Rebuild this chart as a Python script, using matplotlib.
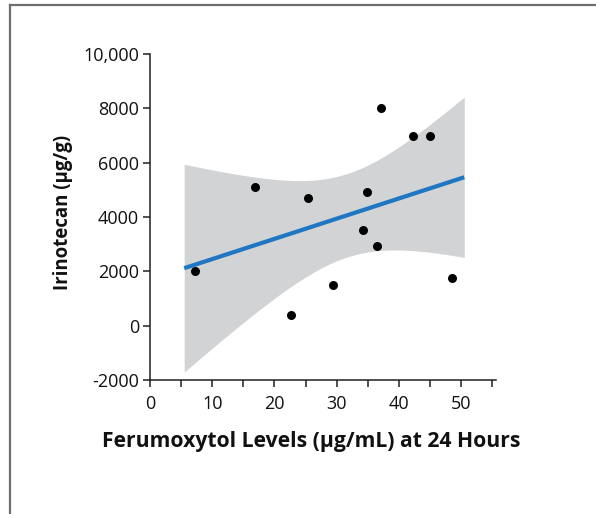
import numpy as np
import matplotlib.pyplot as plt
from matplotlib.lines import Line2D
from matplotlib.ticker import FuncFormatter, MultipleLocator

# Ferumoxytol at 24 h (ug/mL) vs irinotecan (ug/g)
ferumoxytol = [7.3, 16.9, 22.6, 25.4, 29.4, 34.2, 34.9, 36.5, 37.1, 42.3, 45.0, 48.5]
irinotecan = [2030, 5100, 380, 4690, 1480, 3520, 4920, 2950, 8000, 6970, 6970, 1750]

fit_range = (5.5, 50.5)
t_crit = 2.228  # t(0.975, df=10)

plt.rcParams['font.family'] = ['Open Sans', 'DejaVu Sans']

x = np.array(ferumoxytol)
y = np.array(irinotecan, dtype=float)
n = len(x)
slope, intercept = np.polyfit(x, y, 1)
resid = y - (slope * x + intercept)
s = np.sqrt(np.sum(resid ** 2) / (n - 2))
sxx = np.sum((x - x.mean()) ** 2)

xf = np.linspace(fit_range[0], fit_range[1], 200)
yf = slope * xf + intercept
half = t_crit * s * np.sqrt(1 / n + (xf - x.mean()) ** 2 / sxx)

fig = plt.figure(figsize=(5.96, 5.14), dpi=100)
ax = fig.add_axes([150 / 596, 1 - 380 / 514, 346 / 596, 326 / 514])

ax.fill_between(xf, yf - half, yf + half, color='#d1d3d4', lw=0, zorder=1)
ax.plot(xf, yf, color='#1f77c4', lw=3, solid_capstyle='butt', zorder=2)
ax.scatter(x, y, s=42, color='black', zorder=3, linewidths=0)

ax.set_xlim(0, 55.6)
ax.set_ylim(-2000, 10000)
ax.xaxis.set_major_locator(MultipleLocator(10))
ax.xaxis.set_minor_locator(MultipleLocator(5))
ax.set_yticks([-2000, 0, 2000, 4000, 6000, 8000, 10000])
ax.yaxis.set_major_formatter(FuncFormatter(lambda v, p: '10,000' if v == 10000 else f'{int(v)}'))

for side in ['top', 'right']:
    ax.spines[side].set_visible(False)
for side in ['left', 'bottom']:
    ax.spines[side].set_linewidth(1.1)
    ax.spines[side].set_color('#231f20')

ax.tick_params(axis='both', which='both', direction='out', length=5, width=1.1,
               color='#231f20', labelsize=13, labelcolor='#111111')
ax.tick_params(axis='x', which='both', pad=6)
ax.tick_params(axis='y', pad=3)
ax.tick_params(axis='x', which='minor', labelbottom=False)

fig.text(311 / 596, 1 - 441 / 514, 'Ferumoxytol Levels (µg/mL) at 24 Hours',
         ha='center', va='center', fontsize=15.2, fontweight='bold', color='#111111')
fig.text(63 / 596, 1 - 212 / 514, 'Irinotecan (µg/g)', rotation=90,
         ha='center', va='center', fontsize=13.4, fontweight='bold', color='#111111')

# thin grey frame visible on the top and left edges
fig.add_artist(Line2D([10 / 596, 10 / 596], [0, 1 - 5 / 514], color='#6d6e71', lw=1.6))
fig.add_artist(Line2D([10 / 596, 1], [1 - 5 / 514, 1 - 5 / 514], color='#6d6e71', lw=1.6))

fig.savefig('out.png', dpi=100)
